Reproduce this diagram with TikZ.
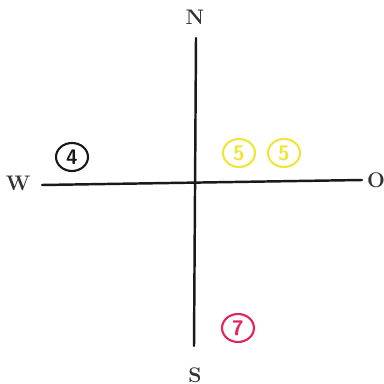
\documentclass[tikz,border=0pt]{standalone}
\usepackage{tikz}
\usetikzlibrary{positioning,shapes.geometric}
\definecolor{penyellow}{RGB}{242,228,60}
\definecolor{penred}{RGB}{228,36,92}
\definecolor{penblack}{RGB}{25,25,25}

\begin{document}
\begin{tikzpicture}[
      x=0.02cm, y=-0.02cm,
      axis/.style={draw=penblack, line width=1.4pt, line cap=round},
      dirlabel/.style={font=\large\bfseries, text=black!80, inner sep=0pt},
      countmark/.style={draw=#1, ellipse, line width=1.2pt, inner sep=0pt,
          minimum width=6.4mm, minimum height=5.6mm, text=#1,
          font=\large\sffamily\bfseries}
    ]
    \useasboundingbox (0,0) rectangle (384,384);
    % compass points
    \node[dirlabel] (north) at (195,17) {N};
    \node[dirlabel] (south) at (195,375) {S};
    \node[dirlabel] (west) at (18,183) {W};
    \node[dirlabel] (east) at (376,180) {O};
    % axes ends
    \coordinate (ntop) at (196,38);
    \coordinate (sbot) at (194,346);
    \coordinate (wend) at (42,185);
    \coordinate (eend) at (362,180);
    \draw[axis] (ntop) -- (sbot);
    \draw[axis] (wend) -- (eend);
    % counts
    \node[countmark=penblack] (cntw) at (72,157) {4};
    \node[countmark=penyellow] (cnto1) at (239,153) {5};
    \node[countmark=penyellow] (cnto2) at (284,153) {5};
    \node[countmark=penred] (cnts) at (238,328) {7};
  \end{tikzpicture}
\end{document}
